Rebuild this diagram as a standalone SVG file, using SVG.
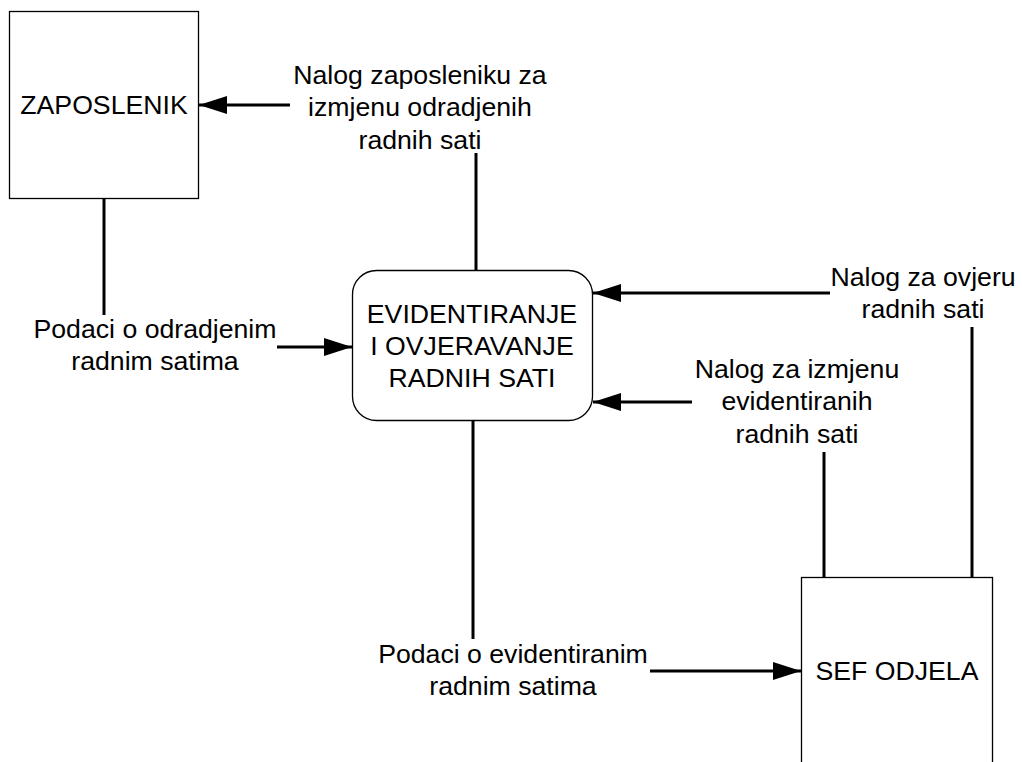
<svg xmlns="http://www.w3.org/2000/svg" width="1022" height="762" viewBox="0 0 1022 762">
<style>
.box{fill:#fff;stroke:#000;stroke-width:1.3}
.t{font-family:"Liberation Sans",Arial,sans-serif;font-size:26.67px;fill:#000;text-anchor:middle}
.c{stroke:#000;stroke-width:3;fill:none}
</style>
<defs>
<marker id="ah" viewBox="0 0 28 18" refX="28" refY="9" markerWidth="28" markerHeight="18" markerUnits="userSpaceOnUse" orient="auto">
<path d="M0,0 L28,9 L0,18 Z" fill="#000"/>
</marker>
</defs>
<rect width="1022" height="762" fill="#fff"/>
<g id="zaposlenik">
<rect class="box" x="9.5" y="11.5" width="189" height="187"/>
<text class="t" x="104" y="114">ZAPOSLENIK</text>
</g>
<g id="proces">
<rect class="box" x="352.5" y="270.5" width="240" height="150" rx="24" ry="24"/>
<text class="t" x="472" y="323">EVIDENTIRANJE</text>
<text class="t" x="472" y="355">I OVJERAVANJE</text>
<text class="t" x="472" y="387">RADNIH SATI</text>
</g>
<g id="sef">
<rect class="box" x="801.5" y="577.5" width="191" height="200"/>
<text class="t" x="897" y="680">SEF ODJELA</text>
</g>
<g id="connectors">
<path class="c" d="M476,270 V153"/>
<path class="c" d="M290,105 H199" marker-end="url(#ah)"/>
<path class="c" d="M104,199 V315"/>
<path class="c" d="M277,347 H352" marker-end="url(#ah)"/>
<path class="c" d="M830,293 H593" marker-end="url(#ah)"/>
<path class="c" d="M972,577 V327"/>
<path class="c" d="M692,402 H593" marker-end="url(#ah)"/>
<path class="c" d="M824,577 V452"/>
<path class="c" d="M473,421 V639"/>
<path class="c" d="M650,671 H801" marker-end="url(#ah)"/>
</g>
<g id="labels">
<text class="t" x="420" y="84">Nalog zaposleniku za</text>
<text class="t" x="420" y="116">izmjenu odradjenih</text>
<text class="t" x="420" y="149">radnih sati</text>
<text class="t" x="155" y="338">Podaci o odradjenim</text>
<text class="t" x="155" y="370">radnim satima</text>
<text class="t" x="923" y="286">Nalog za ovjeru</text>
<text class="t" x="923" y="318">radnih sati</text>
<text class="t" x="797" y="378">Nalog za izmjenu</text>
<text class="t" x="797" y="410">evidentiranih</text>
<text class="t" x="797" y="443">radnih sati</text>
<text class="t" x="513" y="663">Podaci o evidentiranim</text>
<text class="t" x="513" y="695">radnim satima</text>
</g>
</svg>
